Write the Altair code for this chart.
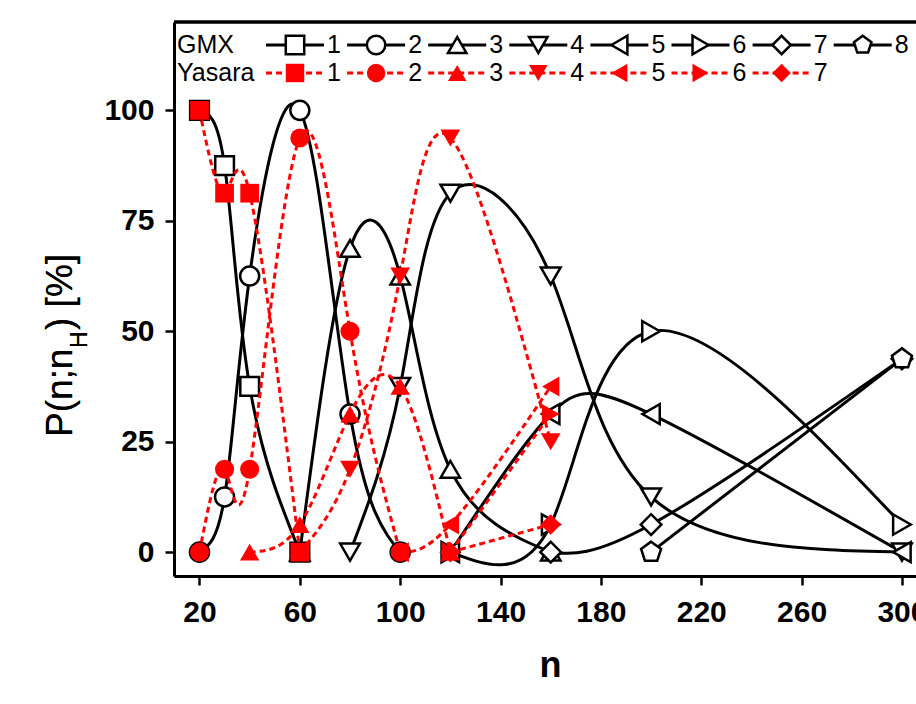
import altair as alt
import pandas as pd

# ---------------- data ----------------
gmx_labels = ["1", "2", "3", "4", "5", "6", "7", "8"]
gmx_n = [
    [20, 30, 40, 60],
    [20, 30, 40, 60, 80, 100],
    [60, 80, 100, 120, 160],
    [80, 100, 120, 160, 200, 300],
    [120, 160, 200, 300],
    [120, 160, 200, 300],
    [160, 200, 300],
    [200, 300],
]
gmx_p = [
    [100, 87.5, 37.5, 0],
    [0, 12.5, 62.5, 100, 31.25, 0],
    [0, 68.75, 62.5, 18.75, 0],
    [0, 37.5, 81.25, 62.5, 12.5, 0],
    [0, 31.25, 31.25, 0],
    [0, 6.25, 50, 6.25],
    [0, 6.25, 43.75],
    [0, 43.75],
]

yas_labels = ["1", "2", "3", "4", "5", "6", "7"]
yas_n = [
    [20, 30, 40, 60],
    [20, 30, 40, 60, 80, 100],
    [40, 60, 80, 100, 120],
    [60, 80, 100, 120, 160],
    [100, 120, 160],
    [120, 160],
    [120, 160],
]
yas_p = [
    [100, 81.25, 81.25, 0],
    [0, 18.75, 18.75, 93.75, 50, 0],
    [0, 6.25, 31.25, 37.5, 0],
    [0, 18.75, 62.5, 93.75, 25],
    [0, 6.25, 37.5],
    [0, 31.25],
    [0, 6.25],
]

x_ticks = [20, 60, 100, 140, 180, 220, 260, 300]
y_ticks = [0, 25, 50, 75, 100]

# ---------------- tables ----------------
def long_table(labels, ns, ps):
    rows = []
    for lab, n_list, p_list in zip(labels, ns, ps):
        for n, p in zip(n_list, p_list):
            rows.append({"series": lab, "n": n, "p": p})
    return pd.DataFrame(rows)

gmx_df = long_table(gmx_labels, gmx_n, gmx_p)
yas_df = long_table(yas_labels, yas_n, yas_p)

# ---------------- styling ----------------
W, H = 742, 554
FONT = "Liberation Sans"
pentagon = "M0,-1L0.951,-0.309L0.588,0.809L-0.588,0.809L-0.951,-0.309Z"
shape_range = ["square", "circle", "triangle-up", "triangle-down",
               "triangle-left", "triangle-right", "diamond", pentagon]
size_range = [350, 440, 600, 600, 600, 600, 580, 500]
shape_scale = alt.Scale(domain=gmx_labels, range=shape_range)
size_scale = alt.Scale(domain=gmx_labels, range=size_range)

xscale = alt.Scale(domain=[9.84, 305.6], nice=False, zero=False)
yscale = alt.Scale(domain=[-5.4, 120], nice=False, zero=False)

X = alt.X("n:Q", scale=xscale,
          axis=alt.Axis(values=x_ticks, title="n", titleFontSize=36,
                        titleFontWeight="bold", titleFont=FONT,
                        titleX=376, titleY=100, titleAlign="center",
                        titleBaseline="alphabetic", labelPadding=12,
                        labelOverlap=False, labelFlush=False))
Y = alt.Y("p:Q", scale=yscale,
          axis=alt.Axis(values=y_ticks, title=None, labelPadding=11))

gmx_lines = alt.Chart(gmx_df).mark_line(
    interpolate="natural", clip=True, color="black", strokeWidth=3
).encode(x=X, y=Y, detail="series:N")

gmx_points = alt.Chart(gmx_df).mark_point(
    filled=True, fill="white", stroke="black", strokeWidth=2.5, opacity=1
).encode(x=X, y=Y,
         shape=alt.Shape("series:N", scale=shape_scale, legend=None),
         size=alt.Size("series:N", scale=size_scale, legend=None))

yas_lines = alt.Chart(yas_df).mark_line(
    interpolate="natural", clip=True, color="#ff0000", strokeWidth=3,
    strokeDash=[6, 4]
).encode(x=X, y=Y, detail="series:N")

yas_points = alt.Chart(yas_df).mark_point(
    filled=True, color="#ff0000", opacity=1
).encode(x=X, y=Y,
         shape=alt.Shape("series:N", scale=shape_scale, legend=None),
         size=alt.Size("series:N", scale=size_scale, legend=None))

# ---------------- custom legend (pixel layout) ----------------
leg_rows = []
for row_y, labels, grp in [(23, gmx_labels, "GMX"), (51, yas_labels, "Yasara")]:
    for i, lab in enumerate(labels):
        cx = 121 + 81.1 * i
        leg_rows.append({"grp": grp, "series": lab, "cx": cx,
                         "x1": cx - 29, "x2": cx + 29, "tx": cx + 39, "ly": row_y})
leg_df = pd.DataFrame(leg_rows)
gmx_leg = leg_df[leg_df.grp == "GMX"]
yas_leg = leg_df[leg_df.grp == "Yasara"]

def pix(f):
    return alt.X(f + ":Q", scale=None, axis=None)

def piy(f):
    return alt.Y(f + ":Q", scale=None, axis=None)

leg_gmx_rule = alt.Chart(gmx_leg).mark_rule(color="black", strokeWidth=3).encode(
    x=pix("x1"), x2="x2:Q", y=piy("ly"))
leg_gmx_pt = alt.Chart(gmx_leg).mark_point(
    filled=True, fill="white", stroke="black", strokeWidth=2.5, opacity=1
).encode(x=pix("cx"), y=piy("ly"),
         shape=alt.Shape("series:N", scale=shape_scale, legend=None),
         size=alt.value(340))
leg_gmx_txt = alt.Chart(gmx_leg).mark_text(
    font=FONT, fontSize=25, color="black", align="center", baseline="middle"
).encode(x=pix("tx"), y=piy("ly"), text="series:N")

leg_yas_rule = alt.Chart(yas_leg).mark_rule(color="#ff0000", strokeWidth=3,
                                            strokeDash=[6, 4]).encode(
    x=pix("x1"), x2="x2:Q", y=piy("ly"))
leg_yas_pt = alt.Chart(yas_leg).mark_point(filled=True, color="#ff0000", opacity=1).encode(
    x=pix("cx"), y=piy("ly"),
    shape=alt.Shape("series:N", scale=shape_scale, legend=None),
    size=alt.value(340))
leg_yas_txt = alt.Chart(yas_leg).mark_text(
    font=FONT, fontSize=25, color="black", align="center", baseline="middle"
).encode(x=pix("tx"), y=piy("ly"), text="series:N")

grp_df = pd.DataFrame({"name": ["GMX", "Yasara"], "ly": [23, 51]})
leg_names = alt.Chart(grp_df).mark_text(
    font=FONT, fontSize=25, color="black", align="left", baseline="middle"
).encode(x=alt.value(3), y=piy("ly"), text="name:N")

# ---------------- frame top + y title ----------------
top_rule = alt.Chart(grp_df).mark_rule(color="black", strokeWidth=3).encode(
    x=alt.value(0), x2=alt.value(W), y=alt.value(0))

ytitle_a = alt.Chart(grp_df).mark_text(
    text="P(n;n", font=FONT, fontSize=37, angle=270, align="left",
    baseline="alphabetic", color="black").encode(x=alt.value(-102), y=alt.value(415))
ytitle_b = alt.Chart(grp_df).mark_text(
    text="H", font=FONT, fontSize=23, angle=270, align="left",
    baseline="alphabetic", color="black").encode(x=alt.value(-87), y=alt.value(326))
ytitle_c = alt.Chart(grp_df).mark_text(
    text=")  [%]", font=FONT, fontSize=37, angle=270, align="left",
    baseline="alphabetic", color="black").encode(x=alt.value(-102), y=alt.value(308))

chart = alt.layer(
    gmx_lines, gmx_points, yas_lines, yas_points,
    leg_gmx_rule, leg_gmx_pt, leg_gmx_txt,
    leg_yas_rule, leg_yas_pt, leg_yas_txt, leg_names,
    top_rule, ytitle_a, ytitle_b, ytitle_c,
).properties(
    width=W, height=H,
    autosize=alt.AutoSizeParams(type="none"),
    padding={"left": 174, "top": 22, "right": 0, "bottom": 128},
    background="white",
).configure_view(stroke=None).configure_axis(
    grid=False, domainColor="black", domainWidth=3, tickColor="black",
    tickWidth=2.5, tickSize=9, labelColor="black", labelFont=FONT,
    labelFontSize=30, labelFontWeight="bold", titleColor="black",
)

chart.save("out.html", embed_options={"renderer": "svg", "actions": False})
